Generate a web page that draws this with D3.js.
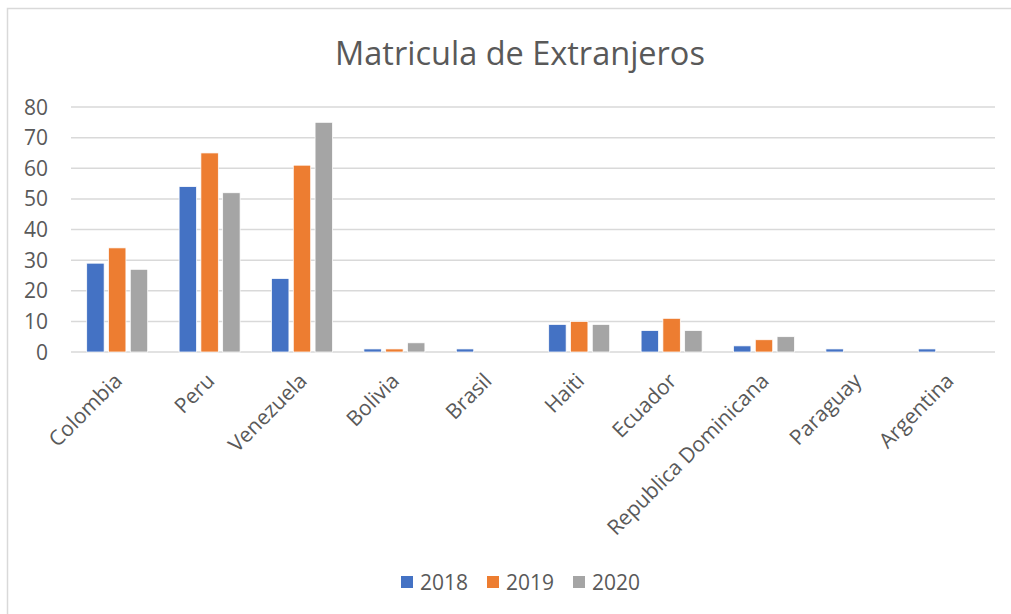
<!DOCTYPE html>
<html>
<head>
<meta charset="utf-8">
<script src="https://cdn.jsdelivr.net/npm/d3@7"></script>
<style>
  body { margin: 0; background: #fff; }
  svg { display: block; font-family: 'Open Sans', sans-serif; }
</style>
</head>
<body>
<svg width="1011" height="614"></svg>
<script>
var categories = ['Colombia', 'Peru', 'Venezuela', 'Bolivia', 'Brasil', 'Haiti', 'Ecuador', 'Republica Dominicana', 'Paraguay', 'Argentina'];
var years = ['2018', '2019', '2020'];
var v2018 = [29, 54, 24, 1, 1, 9, 7, 2, 1, 1];
var v2019 = [34, 65, 61, 1, 0, 10, 11, 4, 0, 0];
var v2020 = [27, 52, 75, 3, 0, 9, 7, 5, 0, 0];
var yTicks = [0, 10, 20, 30, 40, 50, 60, 70, 80];
var colors = ['#4472c4', '#ed7d31', '#a5a5a5'];

var series = [v2018, v2019, v2020];
var margin = {top: 107, left: 71, right: 16, bottom: 262};
var width = 1011;
var height = 614;

var svg = d3.select('svg');

// chart border (only top/left visible in the crop)
svg.append('rect')
  .attr('x', 7.5).attr('y', 8.5)
  .attr('width', 1200).attr('height', 800)
  .attr('fill', 'none')
  .attr('stroke', '#d9d9d9')
  .attr('stroke-width', 1.5);

var xScale = d3.scaleBand()
  .domain(categories)
  .range([margin.left, width - margin.right]);

var xInner = d3.scaleBand()
  .domain(years)
  .range([0, 61])
  .paddingInner(0.2);

var yScale = d3.scaleLinear()
  .domain([0, 80])
  .range([height - margin.bottom, margin.top]);

// gridlines
svg.append('g')
  .selectAll('line')
  .data(yTicks)
  .enter()
  .append('line')
  .attr('x1', margin.left)
  .attr('x2', width - margin.right)
  .attr('y1', d => yScale(d))
  .attr('y2', d => yScale(d))
  .attr('stroke', '#d9d9d9')
  .attr('stroke-width', 1.5);

// y tick labels
svg.append('g')
  .selectAll('text')
  .data(yTicks)
  .enter()
  .append('text')
  .attr('x', 48)
  .attr('y', d => yScale(d))
  .attr('dy', '0.36em')
  .attr('text-anchor', 'end')
  .attr('font-size', 21)
  .attr('fill', '#595959')
  .text(d => d);

// bars
var groups = svg.append('g')
  .selectAll('g')
  .data(categories)
  .enter()
  .append('g')
  .attr('transform', d => 'translate(' + (xScale(d) + (xScale.bandwidth() - 61) / 2) + ',0)');

groups.selectAll('rect')
  .data((d, i) => years.map((y, k) => ({year: y, k: k, value: series[k][i]})))
  .enter()
  .append('rect')
  .filter(d => d.value > 0)
  .attr('x', d => xInner(d.year))
  .attr('y', d => yScale(d.value))
  .attr('width', xInner.bandwidth())
  .attr('height', d => yScale(0) - yScale(d.value))
  .attr('fill', d => colors[d.k])
  .attr('stroke', '#fff')
  .attr('stroke-width', 0.75);

// category labels
svg.append('g')
  .selectAll('text')
  .data(categories)
  .enter()
  .append('text')
  .attr('transform', d => 'translate(' + (xScale(d) + xScale.bandwidth() / 2 + 1) + ',377) rotate(-45)')
  .attr('dy', '0.35em')
  .attr('text-anchor', 'end')
  .attr('font-size', 21)
  .attr('fill', '#595959')
  .text(d => d);

// title
svg.append('text')
  .attr('x', 520)
  .attr('y', 65)
  .attr('text-anchor', 'middle')
  .attr('font-size', 32.5)
  .attr('fill', '#595959')
  .text('Matricula de Extranjeros');

// legend
var legend = svg.append('g')
  .selectAll('g')
  .data(years)
  .enter()
  .append('g')
  .attr('transform', (d, i) => 'translate(' + (401 + i * 86) + ',576)');

legend.append('rect')
  .attr('width', 12)
  .attr('height', 12)
  .attr('fill', (d, i) => colors[i]);

legend.append('text')
  .attr('x', 19)
  .attr('y', 6)
  .attr('dy', '0.36em')
  .attr('font-size', 21)
  .attr('fill', '#595959')
  .text(d => d);
</script>
</body>
</html>
